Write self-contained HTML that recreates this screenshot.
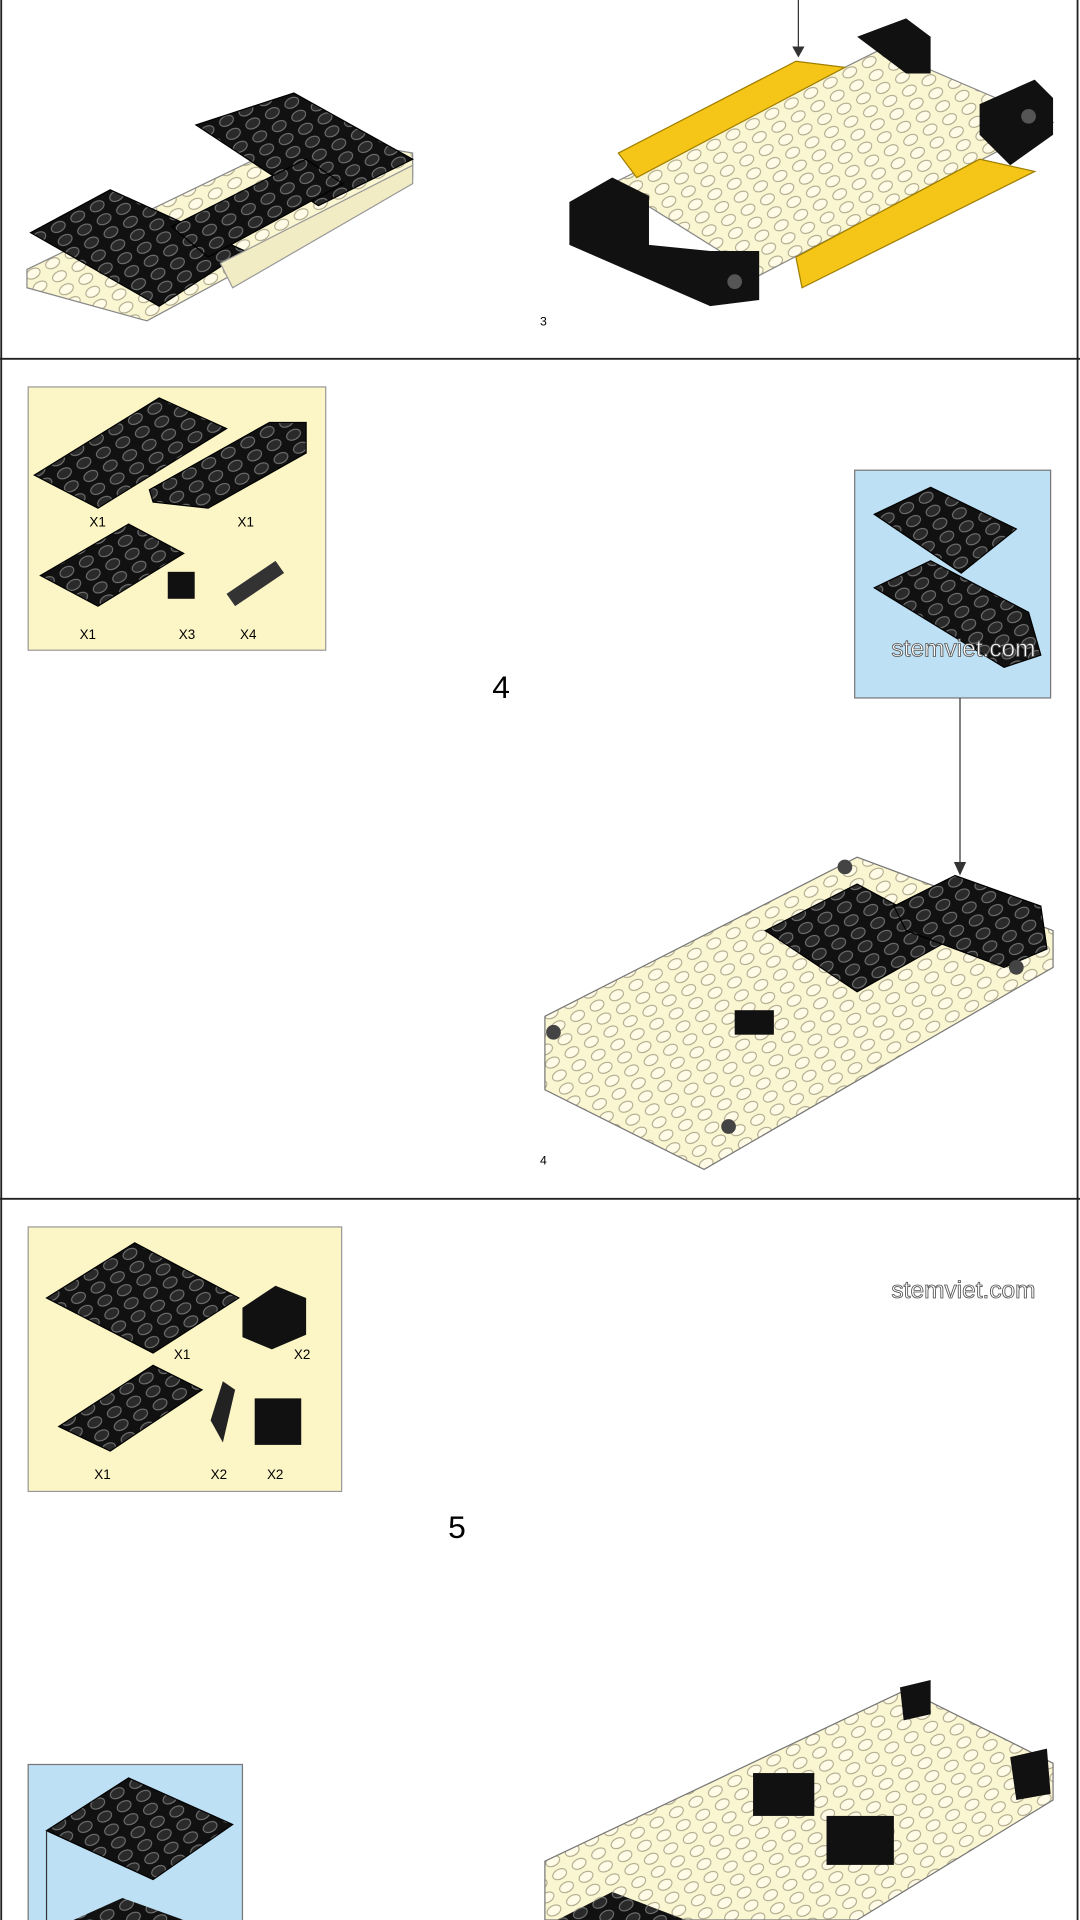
<!DOCTYPE html>
<html><head><meta charset="utf-8"><style>
html,body{margin:0;padding:0;background:#fff;}
svg{display:block;}
</style></head><body>
<svg width="1080" height="1920" viewBox="0 0 882 1568" xmlns="http://www.w3.org/2000/svg" font-family="Liberation Sans, sans-serif">
<defs>
<pattern id="bs" width="18" height="12" patternUnits="userSpaceOnUse" patternTransform="rotate(-28)">
<rect width="18" height="12" fill="#111"/><ellipse cx="9" cy="6" rx="6" ry="4" fill="#2a2a2a" stroke="#777" stroke-width="0.8"/>
</pattern>
<pattern id="cs" width="18" height="12" patternUnits="userSpaceOnUse" patternTransform="rotate(-28)">
<rect width="18" height="12" fill="#fbf6d2"/><ellipse cx="9" cy="6" rx="6" ry="4" fill="#fffbe6" stroke="#a9a487" stroke-width="0.8"/>
</pattern>
</defs>
<rect width="882" height="1568" fill="#fff"/>
<rect x="1" y="-2" width="879" height="1572" fill="none" stroke="#222" stroke-width="1.5"/>
<line x1="0" y1="293" x2="882" y2="293" stroke="#222" stroke-width="1.5"/>
<line x1="0" y1="979" x2="882" y2="979" stroke="#222" stroke-width="1.5"/>

<!-- Panel 1 left model -->
<polygon points="22,220 250,110 337,125 337,145 120,262 22,235" fill="url(#cs)" stroke="#888"/>
<polygon points="160,102 240,76 337,130 260,168" fill="url(#bs)" stroke="#000"/>
<polygon points="25,190 90,155 200,205 130,250" fill="url(#bs)" stroke="#000"/>
<polygon points="140,185 250,130 280,150 170,210" fill="url(#bs)" stroke="#000"/>
<polygon points="180,215 337,135 337,150 190,235" fill="#f2ecc4" stroke="#999"/>

<!-- Panel 1 right model -->
<polygon points="500,150 720,40 860,100 620,225" fill="url(#cs)" stroke="#888"/>
<polygon points="505,125 650,50 690,55 520,145" fill="#f5c518" stroke="#a07f00"/>
<polygon points="650,210 800,130 845,140 655,235" fill="#f5c518" stroke="#a07f00"/>
<polygon points="465,165 500,145 530,160 530,200 580,205 620,205 620,245 580,250 465,200" fill="#111"/>
<polygon points="700,30 740,15 760,30 760,60 740,60" fill="#111"/>
<polygon points="800,85 845,65 860,80 860,110 825,135 800,110" fill="#111"/>
<circle cx="600" cy="230" r="6" fill="#555"/><circle cx="840" cy="95" r="6" fill="#555"/>
<line x1="652" y1="0" x2="652" y2="42" stroke="#333"/><polygon points="647,38 657,38 652,47" fill="#333"/>
<text x="441" y="266" font-size="10">3</text>

<!-- Panel 2 -->
<rect x="23" y="316" width="243" height="215" fill="#fcf6c6" stroke="#999"/>
<polygon points="28,388 130,325 185,350 80,415" fill="url(#bs)" stroke="#000"/>
<polygon points="122,400 220,345 250,345 250,370 170,415 125,410" fill="url(#bs)" stroke="#000"/>
<polygon points="33,470 105,428 150,452 80,495" fill="url(#bs)" stroke="#000"/>
<rect x="137" y="467" width="22" height="22" fill="#111"/>
<polygon points="185,485 225,458 232,468 192,495" fill="#333"/>
<g font-size="11"><text x="73" y="430">X1</text><text x="194" y="430">X1</text><text x="65" y="522">X1</text><text x="146" y="522">X3</text><text x="196" y="522">X4</text></g>

<rect x="698" y="384" width="160" height="186" fill="#bde0f5" stroke="#777"/>
<polygon points="714,420 760,398 830,432 785,468" fill="url(#bs)" stroke="#000"/>
<polygon points="714,480 760,458 840,500 850,535 820,545" fill="url(#bs)" stroke="#000"/>
<text x="728" y="536" font-size="20" fill="#fff" stroke="#555" stroke-width="0.7">stemviet.com</text>
<text x="402" y="570" font-size="26">4</text>
<line x1="784" y1="570" x2="784" y2="708" stroke="#333"/><polygon points="779,704 789,704 784,715" fill="#333"/>

<polygon points="445,830 700,700 860,760 860,790 575,955 445,890" fill="url(#cs)" stroke="#777"/>
<polygon points="625,760 700,722 780,765 700,810" fill="url(#bs)" stroke="#000"/>
<polygon points="730,740 780,715 850,740 855,775 820,790 740,760" fill="url(#bs)" stroke="#000"/>
<rect x="600" y="825" width="32" height="20" fill="#111"/>
<circle cx="452" cy="843" r="6" fill="#444"/><circle cx="595" cy="920" r="6" fill="#444"/><circle cx="830" cy="790" r="6" fill="#444"/><circle cx="690" cy="708" r="6" fill="#444"/>
<text x="441" y="951" font-size="10">4</text>

<!-- Panel 3 -->
<rect x="23" y="1002" width="256" height="216" fill="#fcf6c6" stroke="#999"/>
<polygon points="38,1060 110,1015 195,1060 125,1105" fill="url(#bs)" stroke="#000"/>
<polygon points="198,1068 225,1050 250,1060 250,1090 222,1102 198,1092" fill="#111"/>
<polygon points="48,1165 125,1115 165,1135 90,1185" fill="url(#bs)" stroke="#000"/>
<polygon points="172,1160 182,1128 192,1135 182,1178" fill="#222"/>
<rect x="208" y="1142" width="38" height="38" fill="#111"/>
<g font-size="11"><text x="142" y="1110">X1</text><text x="240" y="1110">X2</text><text x="77" y="1208">X1</text><text x="172" y="1208">X2</text><text x="218" y="1208">X2</text></g>
<text x="728" y="1060" font-size="20" fill="#fff" stroke="#555" stroke-width="0.7">stemviet.com</text>
<text x="366" y="1256" font-size="26">5</text>

<rect x="23" y="1441" width="175" height="130" fill="#bde0f5" stroke="#777"/>
<polygon points="38,1495 105,1452 190,1490 125,1535" fill="url(#bs)" stroke="#000"/>
<polygon points="60,1568 100,1550 150,1568" fill="url(#bs)"/>
<line x1="38" y1="1495" x2="38" y2="1568" stroke="#333"/>

<polygon points="445,1520 740,1380 860,1440 860,1470 700,1568 445,1568" fill="url(#cs)" stroke="#777"/>
<rect x="615" y="1448" width="50" height="35" fill="#111"/>
<rect x="675" y="1483" width="55" height="40" fill="#111"/>
<polygon points="735,1378 760,1372 760,1400 738,1405" fill="#111"/>
<polygon points="825,1435 855,1428 858,1465 830,1470" fill="#111"/>
<polygon points="455,1568 500,1545 560,1568" fill="url(#bs)"/>
</svg>
</body></html>
